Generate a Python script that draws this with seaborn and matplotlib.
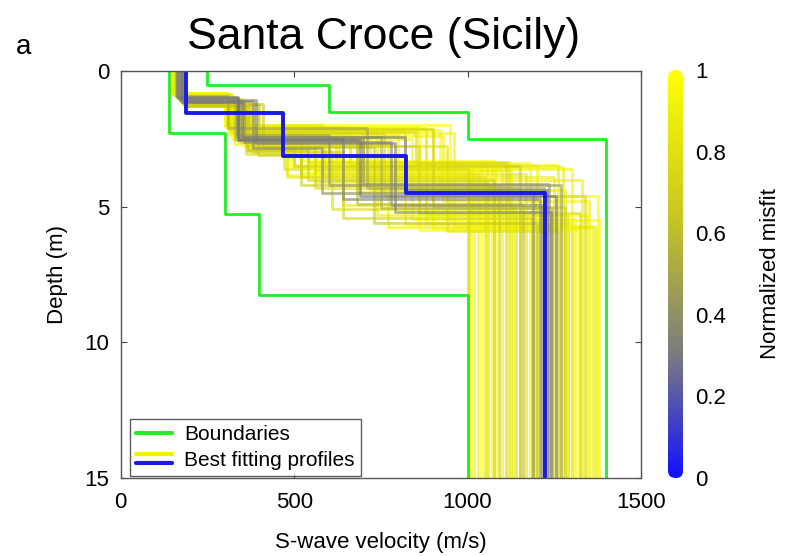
import numpy as np
import pandas as pd
import matplotlib
matplotlib.use("Agg")
import matplotlib.pyplot as plt
import seaborn as sns
from matplotlib.colors import LinearSegmentedColormap, Normalize
from matplotlib.cm import ScalarMappable
from matplotlib.lines import Line2D
from matplotlib.legend_handler import HandlerBase
from matplotlib.patches import FancyBboxPatch

# ---- inversion ensemble: 4-layer Vs models (m/s) and interface depths (m) ----
vs1 = [150, 155, 160, 170, 175, 165, 180, 185, 158, 172, 178, 168, 152, 182, 162, 176, 148, 184, 166, 174,
       156, 170, 180, 160, 186, 154, 176, 164, 182, 150, 172, 168, 178, 158, 184, 162, 174, 152, 180, 166,
       157, 171, 183, 149, 163, 177, 169, 185, 153, 167, 179, 159, 173, 181, 155, 165, 175, 161, 186, 170]
z1 = [0.82, 0.90, 0.95, 1.05, 1.10, 1.00, 1.20, 1.28, 0.88, 1.08, 1.15, 1.02, 0.85, 1.22, 0.96, 1.12, 0.80, 1.25, 1.00, 1.10,
      0.90, 1.06, 1.18, 0.93, 1.30, 0.86, 1.14, 0.98, 1.20, 0.84, 1.05, 1.04, 1.16, 0.92, 1.26, 0.97, 1.12, 0.86, 1.22, 1.01,
      0.87, 1.07, 1.24, 0.81, 0.97, 1.13, 1.03, 1.29, 0.85, 1.00, 1.17, 0.92, 1.09, 1.21, 0.88, 0.99, 1.11, 0.94, 1.30, 1.05]
vs2 = [305, 320, 330, 345, 355, 310, 360, 365, 300, 340, 350, 335, 315, 400, 325, 380, 302, 362, 330, 348,
       318, 390, 358, 308, 364, 322, 342, 336, 410, 312, 352, 328, 372, 306, 395, 338, 346, 316, 370, 332,
       304, 344, 366, 309, 326, 356, 334, 378, 311, 338, 362, 318, 349, 385, 306, 331, 352, 321, 368, 341]
z2 = [2.05, 2.20, 2.40, 2.60, 2.75, 2.10, 2.30, 2.90, 2.00, 2.50, 2.45, 2.35, 2.15, 2.70, 2.25, 2.85, 2.05, 3.05, 2.55, 2.40,
      2.30, 2.65, 2.20, 2.10, 2.95, 2.50, 2.60, 2.15, 2.80, 2.35, 2.45, 2.70, 2.25, 2.00, 3.10, 2.55, 2.35, 2.20, 2.75, 2.40,
      2.08, 2.48, 2.85, 2.12, 2.30, 2.62, 2.42, 3.00, 2.18, 2.52, 2.68, 2.22, 2.38, 2.78, 2.06, 2.45, 2.58, 2.28, 2.92, 2.33]
vs3 = [620, 700, 560, 520, 480, 880, 760, 500, 950, 640, 820, 600, 900, 540, 740, 580, 860, 470, 680, 930,
       520, 790, 660, 710, 610, 840, 560, 900, 730, 490, 620, 770, 850, 580, 520, 690, 800, 640, 940, 500,
       660, 720, 560, 880, 600, 780, 520, 640, 920, 700, 480, 820, 590, 860, 540, 750, 680, 960, 540, 630]
z3 = [3.40, 3.90, 3.70, 3.90, 3.85, 5.60, 4.60, 3.50, 5.50, 4.70, 4.40, 4.20, 5.80, 3.35, 5.30, 4.50, 5.85, 3.60, 4.90, 4.80,
      3.30, 5.20, 3.45, 4.30, 5.10, 5.45, 4.10, 5.00, 5.60, 3.55, 4.00, 5.75, 3.40, 3.80, 4.20, 4.60, 3.60, 4.95, 5.90, 3.45,
      3.50, 4.40, 4.30, 5.30, 3.35, 4.95, 3.75, 5.40, 4.60, 4.15, 3.90, 5.65, 3.65, 5.25, 3.40, 5.05, 4.45, 5.70, 4.00, 3.55]
vs4 = [1180, 1250, 1100, 1050, 1020, 1300, 1340, 1150, 1380, 1210, 1230, 1270, 1360, 1120, 1290, 1190, 1320, 1000, 1160, 1350,
       1080, 1240, 1260, 1220, 1140, 1310, 1060, 1280, 1200, 1040, 1330, 1370, 1110, 1170, 1090, 1255, 1300, 1130, 1265, 1010,
       1200, 1280, 1150, 1345, 1070, 1215, 1030, 1185, 1375, 1235, 1005, 1290, 1125, 1325, 1055, 1245, 1195, 1365, 1075, 1275]
misfit = [0.95, 0.85, 0.90, 0.80, 0.92, 0.88, 0.75, 0.70, 0.98, 0.35, 0.30, 0.45, 0.93, 0.82, 0.87, 0.40, 0.96, 0.78, 0.60, 0.90,
          0.97, 0.33, 0.86, 0.50, 0.79, 0.94, 0.84, 0.72, 0.65, 0.99, 0.89, 0.91, 0.76, 0.83, 0.68, 0.28, 0.92, 0.87, 0.81, 0.95,
          0.93, 0.88, 0.80, 0.97, 0.94, 0.38, 0.91, 0.74, 0.96, 0.42, 0.86, 0.90, 0.89, 0.77, 0.98, 0.55, 0.84, 0.92, 0.71, 0.88]

# best model
best_vs = [188, 469, 824, 1224]
best_z = [1.54, 3.13, 4.49]

# parameter-space boundaries
low_vs = [140, 300, 400, 1000]
low_z = [2.27, 5.28, 8.26]
high_vs = [250, 600, 1000, 1400]
high_z = [0.52, 1.52, 2.51]

z_max = 15.0
x_ticks = [0, 500, 1000, 1500]
y_ticks = [0, 5, 10, 15]
cbar_ticks = [0, 0.2, 0.4, 0.6, 0.8, 1.0]
cbar_labels = ["0", "0.2", "0.4", "0.6", "0.8", "1"]


def step_profile(vs, z):
    """Vertices of a layered Vs profile drawn as a staircase down to z_max."""
    tops = [0.0] + list(z)
    bots = list(z) + [z_max]
    xs, ys = [], []
    for v, t, b in zip(vs, tops, bots):
        xs += [v, v]
        ys += [t, b]
    return xs, ys


sns.set_theme(style="white")
plt.rcParams["font.family"] = ["Liberation Sans", "DejaVu Sans"]
plt.rcParams["text.color"] = "black"
plt.rcParams["axes.labelcolor"] = "black"
plt.rcParams["xtick.color"] = "black"
plt.rcParams["ytick.color"] = "black"

cmap = LinearSegmentedColormap.from_list(
    "misfit", [(0.0, "#1010ff"), (0.3, "#7a7a80"), (0.65, "#c8c820"), (1.0, "#ffff00")])
norm = Normalize(0, 1)

fig = plt.figure(figsize=(7.87, 5.56), dpi=100)
ax = fig.add_axes([0.1534, 0.1403, 0.661, 0.732])

# ensemble, highest misfit drawn first
order = np.argsort(misfit)[::-1]
for i in order:
    xs, ys = step_profile([vs1[i], vs2[i], vs3[i], vs4[i]], [z1[i], z2[i], z3[i]])
    df = pd.DataFrame({"vs": xs, "depth": ys})
    sns.lineplot(data=df, x="vs", y="depth", sort=False, estimator=None,
                 color=cmap(norm(misfit[i])), lw=2.0, alpha=0.65, ax=ax)

for vs, z in [(low_vs, low_z), (high_vs, high_z)]:
    xs, ys = step_profile(vs, z)
    sns.lineplot(x=xs, y=ys, sort=False, estimator=None, color="#22ee22", lw=2.0, ax=ax)

xs, ys = step_profile(best_vs, best_z)
sns.lineplot(x=xs, y=ys, sort=False, estimator=None, color="#1a1ae0", lw=2.8, ax=ax)

ax.set_xlim(0, 1500)
ax.set_ylim(z_max, 0)
ax.set_xticks(x_ticks)
ax.set_yticks(y_ticks)
ax.tick_params(direction="in", length=4, width=0.8, color="#444444", labelsize=16,
               top=True, right=True, bottom=True, left=True, pad=8)
ax.tick_params(axis="x", pad=10)
for s in ax.spines.values():
    s.set_color("#555555")
    s.set_linewidth(1.0)
ax.set_xlabel("S-wave velocity (m/s)", fontsize=16, labelpad=14)
ax.set_ylabel("Depth (m)", fontsize=16, labelpad=12)


class StackedLines(HandlerBase):
    def create_artists(self, legend, orig_handle, xdescent, ydescent,
                       width, height, fontsize, trans):
        top = Line2D([-xdescent, width - xdescent], [0.80 * height - ydescent] * 2,
                     color="#f2f200", lw=3, transform=trans)
        bot = Line2D([-xdescent, width - xdescent], [0.20 * height - ydescent] * 2,
                     color="#1a1ae0", lw=3, transform=trans)
        return [top, bot]


h_bound = Line2D([], [], color="#22ee22", lw=3)
h_best = object()
leg = ax.legend([h_bound, h_best], ["Boundaries", "Best fitting profiles"],
                handler_map={type(h_best): StackedLines()},
                loc="lower left", bbox_to_anchor=(0.01, -0.005), fontsize=15,
                frameon=True, fancybox=False, edgecolor="#333333",
                handlelength=1.7, handletextpad=0.6, borderpad=0.3, labelspacing=0.3,
                borderaxespad=0.2)
leg.get_frame().set_linewidth(1.0)

# colorbar with rounded ends
cax = fig.add_axes([668 / 787, (556 - 478) / 556, 15 / 787, (478 - 70) / 556])
cb = fig.colorbar(ScalarMappable(norm=norm, cmap=cmap), cax=cax, ticks=cbar_ticks)
cb.outline.set_visible(False)
cb.ax.set_yticklabels(cbar_labels)
cb.ax.tick_params(length=0, labelsize=16, pad=9)
cb.set_label("Normalized misfit", fontsize=16, labelpad=24)
w_px, h_px = 15, 408
clip = FancyBboxPatch((0, 0), 1, 1, boxstyle="round,pad=0,rounding_size=0.5",
                      mutation_aspect=(w_px / h_px), transform=cax.transAxes,
                      facecolor="none", edgecolor="none")
cax.add_patch(clip)
cb.solids.set_clip_path(clip)

fig.text(0.487, 0.933, "Santa Croce (Sicily)", ha="center", va="center", fontsize=32)
fig.text(0.02, 0.915, "a", ha="left", va="center", fontsize=20)

fig.savefig("out.png", dpi=100)
